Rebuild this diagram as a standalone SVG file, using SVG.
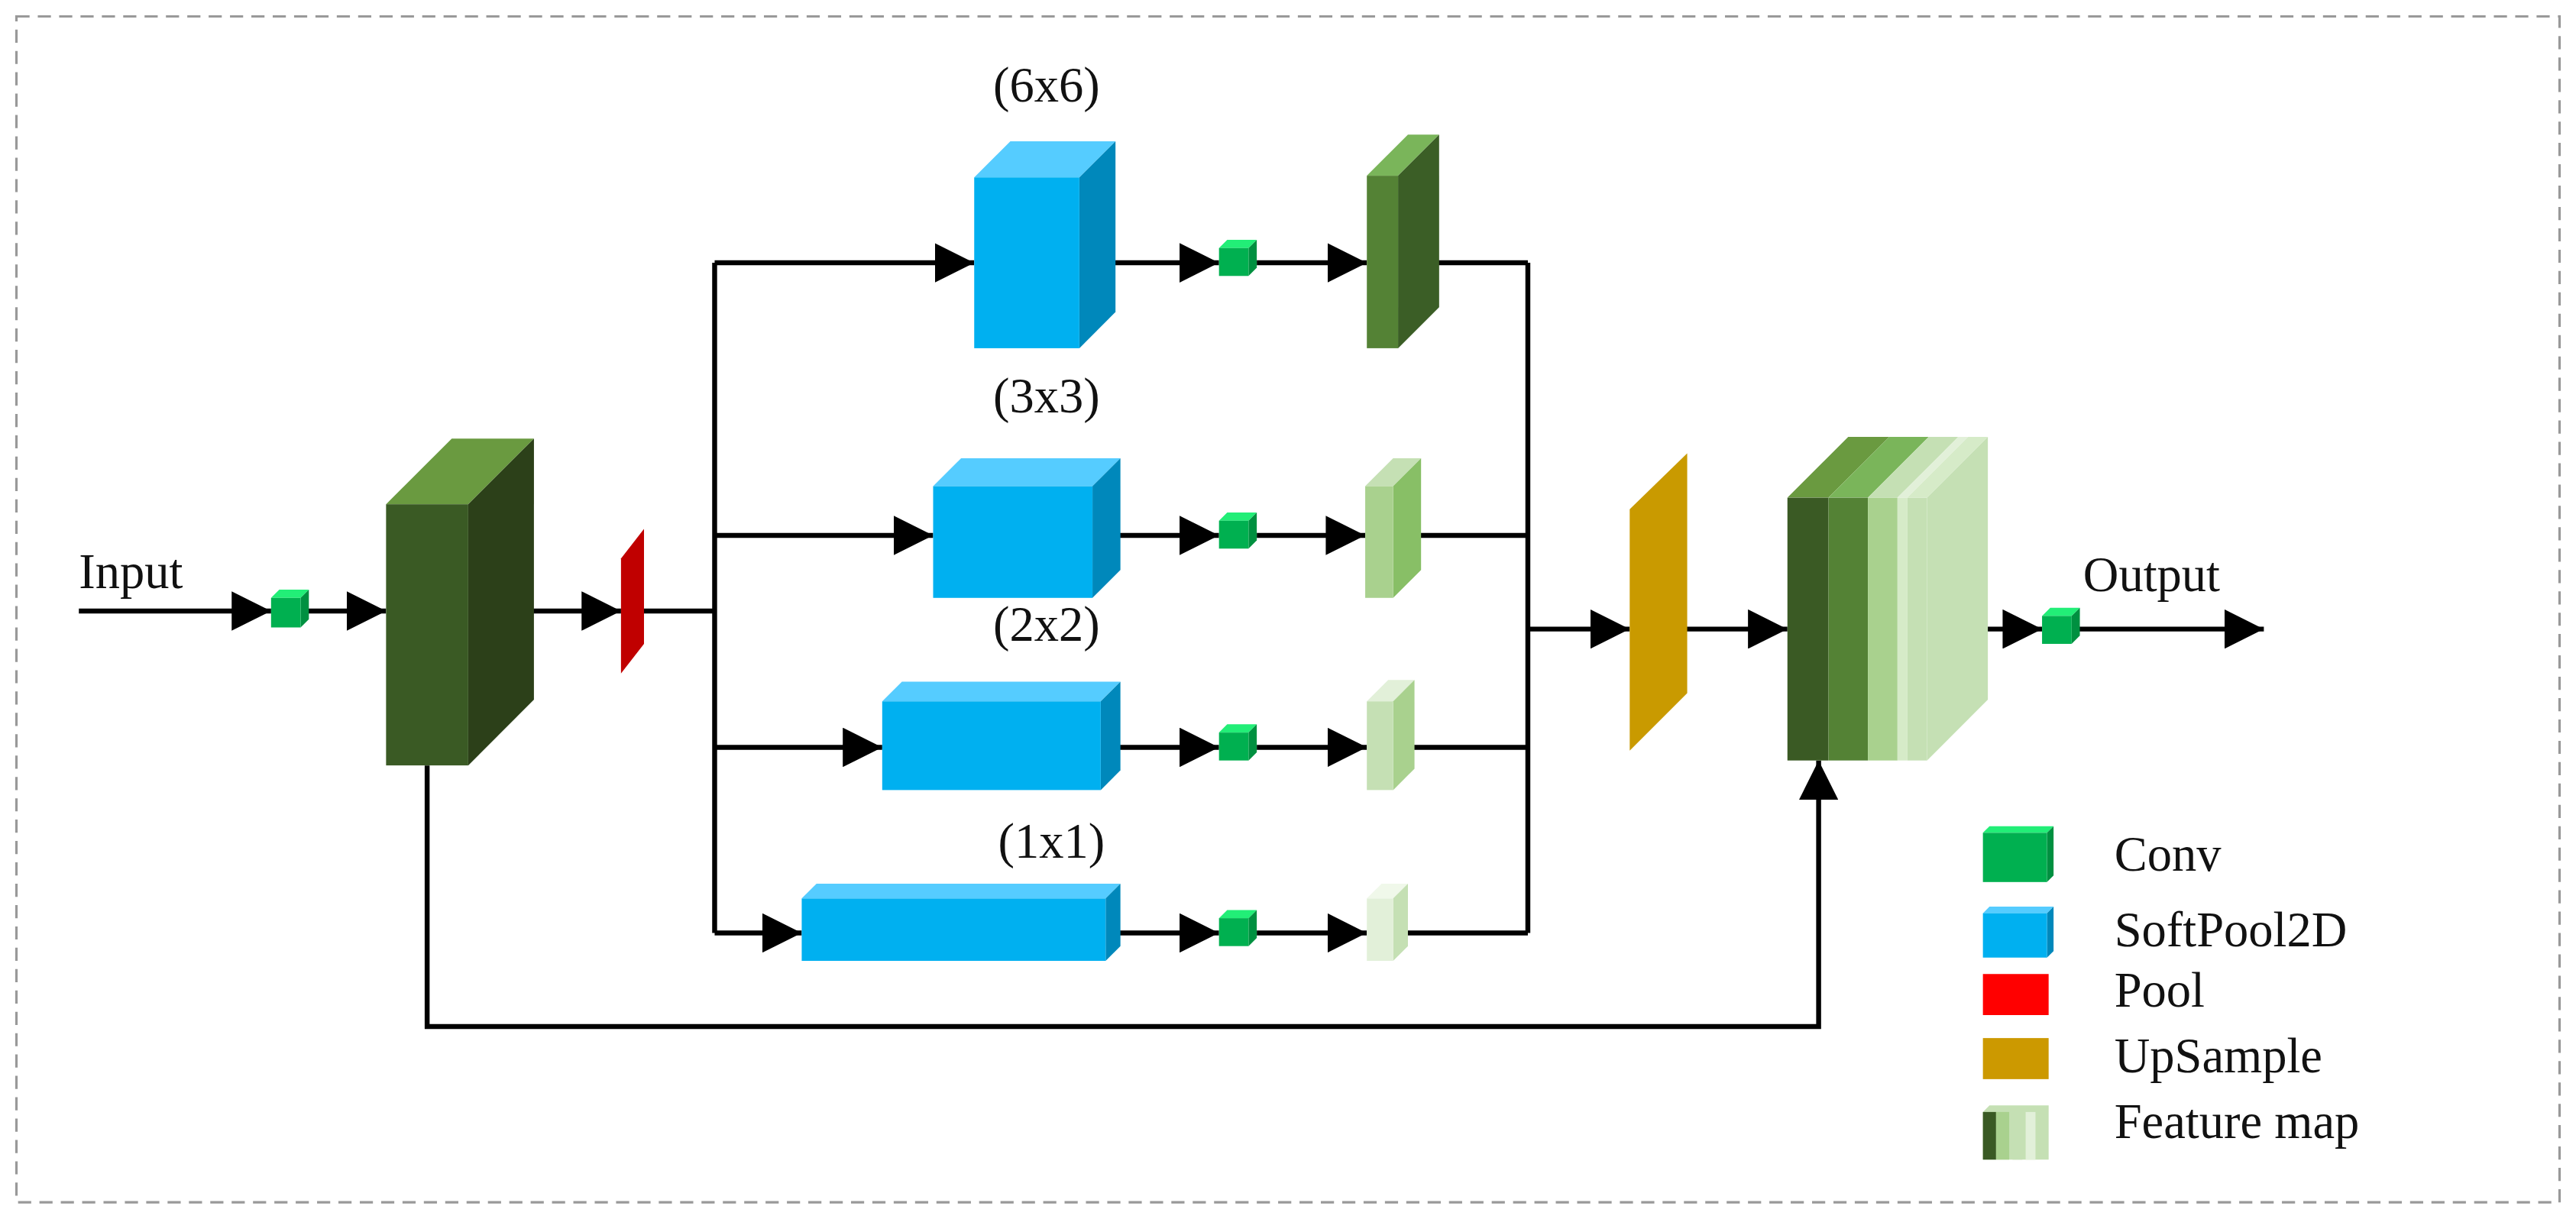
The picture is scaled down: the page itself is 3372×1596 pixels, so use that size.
<svg xmlns="http://www.w3.org/2000/svg" width="3372" height="1596" viewBox="0 0 3372 1596">
<defs>
<style>
.ln{fill:none;stroke:#000;stroke-width:3}
.ar{marker-end:url(#ah)}
.t{font-family:"Liberation Serif",serif;font-size:30px;fill:#111}
</style>
<marker id="ah" markerWidth="8" markerHeight="8" refX="8" refY="4" orient="auto" markerUnits="strokeWidth"><path d="M0,0 L8,4 L0,8 z" fill="#000"/></marker>
</defs>
<rect width="3372" height="1596" fill="#fff"/>
<g transform="scale(2.1505)">
<rect x="10" y="10" width="1548" height="722" fill="none" stroke="#999" stroke-width="1.5" stroke-dasharray="8,5"/>
<g id="connectors">
<path class="ln ar" d="M48,372 H165"/>
<path class="ln ar" d="M187,372 H235"/>
<path class="ln ar" d="M310,372 H378"/>
<path class="ln" d="M385,372 H435 M435,160 V568"/>
<path class="ln ar" d="M435,160 H593"/>
<path class="ln ar" d="M435,326 H568"/>
<path class="ln ar" d="M435,455 H537"/>
<path class="ln ar" d="M435,568 H488"/>
<path class="ln ar" d="M675,160 H742"/><path class="ln ar" d="M765,160 H832"/>
<path class="ln ar" d="M680,326 H742"/><path class="ln ar" d="M765,326 H831"/>
<path class="ln ar" d="M675,455 H742"/><path class="ln ar" d="M765,455 H832"/>
<path class="ln ar" d="M675,568 H742"/><path class="ln ar" d="M765,568 H832"/>
<path class="ln" d="M862,160 H930 M857,326 H930 M855,455 H930 M850,568 H930 M930,160 V568"/>
<path class="ln ar" d="M930,383 H992"/>
<path class="ln ar" d="M1012,383 H1088"/>
<path class="ln ar" d="M1196,383 H1243"/>
<path class="ln ar" d="M1265,383 H1378"/>
<path class="ln ar" d="M260,466 V625 H1107 V463"/>
</g>
<g id="conv-in">
<polygon points="165,364 170,359 188,359 183,364" fill="#22ee77"/><polygon points="183,364 188,359 188,377 183,382" fill="#009040"/><rect x="165" y="364" width="18" height="18" fill="#00b050"/>
</g>
<g id="block">
<polygon points="235,307 275,267 325,267 285,307" fill="#6a9a40"/>
<polygon points="285,307 325,267 325,426 285,466" fill="#2c4019"/>
<rect x="235" y="307" width="50" height="159" fill="#3a5a24"/>
</g>
<g id="pool"><polygon points="378,340 392,322 392,392 378,410" fill="#c00000"/></g>
<g id="sp6">
<polygon points="593,108 615,86 679,86 657,108" fill="#55ccff"/><polygon points="657,108 679,86 679,190 657,212" fill="#0088bb"/><rect x="593" y="108" width="64" height="104" fill="#00b0f0"/>
<text class="t" x="637" y="62" text-anchor="middle">(6x6)</text>
</g>
<g id="sp3">
<polygon points="568,296 585,279 682,279 665,296" fill="#55ccff"/><polygon points="665,296 682,279 682,347 665,364" fill="#0088bb"/><rect x="568" y="296" width="97" height="68" fill="#00b0f0"/>
<text class="t" x="637" y="251" text-anchor="middle">(3x3)</text>
</g>
<g id="sp2">
<polygon points="537,427 549,415 682,415 670,427" fill="#55ccff"/><polygon points="670,427 682,415 682,469 670,481" fill="#0088bb"/><rect x="537" y="427" width="133" height="54" fill="#00b0f0"/>
<text class="t" x="637" y="390" text-anchor="middle">(2x2)</text>
</g>
<g id="sp1">
<polygon points="488,547 497,538 682,538 673,547" fill="#55ccff"/><polygon points="673,547 682,538 682,576 673,585" fill="#0088bb"/><rect x="488" y="547" width="185" height="38" fill="#00b0f0"/>
<text class="t" x="640" y="522" text-anchor="middle">(1x1)</text>
</g>
<g id="convs">
<g><polygon points="742,151 747,146 765,146 760,151" fill="#22ee77"/><polygon points="760,151 765,146 765,163 760,168" fill="#009040"/><rect x="742" y="151" width="18" height="17" fill="#00b050"/></g>
<g><polygon points="742,317 747,312 765,312 760,317" fill="#22ee77"/><polygon points="760,317 765,312 765,329 760,334" fill="#009040"/><rect x="742" y="317" width="18" height="17" fill="#00b050"/></g>
<g><polygon points="742,446 747,441 765,441 760,446" fill="#22ee77"/><polygon points="760,446 765,441 765,458 760,463" fill="#009040"/><rect x="742" y="446" width="18" height="17" fill="#00b050"/></g>
<g><polygon points="742,559 747,554 765,554 760,559" fill="#22ee77"/><polygon points="760,559 765,554 765,571 760,576" fill="#009040"/><rect x="742" y="559" width="18" height="17" fill="#00b050"/></g>
</g>
<g id="fm6">
<polygon points="832,107 857,82 876,82 851,107" fill="#7ab55a"/><polygon points="851,107 876,82 876,187 851,212" fill="#3b5e26"/><rect x="832" y="107" width="19" height="105" fill="#548235"/>
</g>
<g id="fm3">
<polygon points="831,296 848,279 865,279 848,296" fill="#c5e0b4"/><polygon points="848,296 865,279 865,347 848,364" fill="#88bf66"/><rect x="831" y="296" width="17" height="68" fill="#a9d18e"/>
</g>
<g id="fm2">
<polygon points="832,427 845,414 861,414 848,427" fill="#e2f0d9"/><polygon points="848,427 861,414 861,468 848,481" fill="#a9d18e"/><rect x="832" y="427" width="16" height="54" fill="#c5e0b4"/>
</g>
<g id="fm1">
<polygon points="832,547 841,538 857,538 848,547" fill="#f0f8ea"/><polygon points="848,547 857,538 857,576 848,585" fill="#c5e0b4"/><rect x="832" y="547" width="16" height="38" fill="#e2f0d9"/>
</g>
<g id="upsample"><polygon points="992,310 1027,276 1027,422 992,457" fill="#c99a00"/></g>
<g id="concat">
<polygon points="1088,303 1125,266 1150,266 1113,303" fill="#6a9a40"/>
<polygon points="1113,303 1150,266 1174,266 1137,303" fill="#7ab55a"/>
<polygon points="1137,303 1174,266 1192,266 1155,303" fill="#c5e0b4"/>
<polygon points="1155,303 1192,266 1198,266 1161,303" fill="#e2f0d9"/>
<polygon points="1161,303 1198,266 1210,266 1173,303" fill="#d6ebc8"/>
<polygon points="1173,303 1210,266 1210,426 1173,463" fill="#c5e0b4"/>
<rect x="1088" y="303" width="25" height="160" fill="#3a5a24"/>
<rect x="1113" y="303" width="24" height="160" fill="#548235"/>
<rect x="1137" y="303" width="18" height="160" fill="#a9d18e"/>
<rect x="1155" y="303" width="6" height="160" fill="#d6ebc8"/>
<rect x="1161" y="303" width="12" height="160" fill="#c5e0b4"/>
</g>
<g id="conv-out">
<polygon points="1243,375 1248,370 1266,370 1261,375" fill="#22ee77"/><polygon points="1261,375 1266,370 1266,387 1261,392" fill="#009040"/><rect x="1243" y="375" width="18" height="17" fill="#00b050"/>
</g>
<text class="t" x="48" y="358">Input</text>
<text class="t" x="1268" y="360">Output</text>
<g id="legend">
<polygon points="1207,507 1211,503 1250,503 1246,507" fill="#22ee77"/><polygon points="1246,507 1250,503 1250,533 1246,537" fill="#009040"/><rect x="1207" y="507" width="39" height="30" fill="#00b050"/>
<polygon points="1207,556 1211,552 1250,552 1246,556" fill="#55ccff"/><polygon points="1246,556 1250,552 1250,579 1246,583" fill="#0088bb"/><rect x="1207" y="556" width="39" height="27" fill="#00b0f0"/>
<rect x="1207" y="593" width="40" height="25" fill="#ff0000"/>
<rect x="1207" y="632" width="40" height="25" fill="#cc9900"/>
<polygon points="1207,677 1211,673 1247,673 1247,706 1207,706" fill="#c5e0b4"/>
<rect x="1207" y="677" width="8" height="29" fill="#3a5a24"/>
<rect x="1215" y="677" width="8" height="29" fill="#a9d18e"/>
<rect x="1225" y="677" width="6" height="29" fill="#c5e0b4"/>
<rect x="1233" y="677" width="6" height="29" fill="#e2f0d9"/>
<text class="t" x="1287" y="530">Conv</text>
<text class="t" x="1287" y="576">SoftPool2D</text>
<text class="t" x="1287" y="613">Pool</text>
<text class="t" x="1287" y="653">UpSample</text>
<text class="t" x="1287" y="693">Feature map</text>
</g>
</g>
</svg>
